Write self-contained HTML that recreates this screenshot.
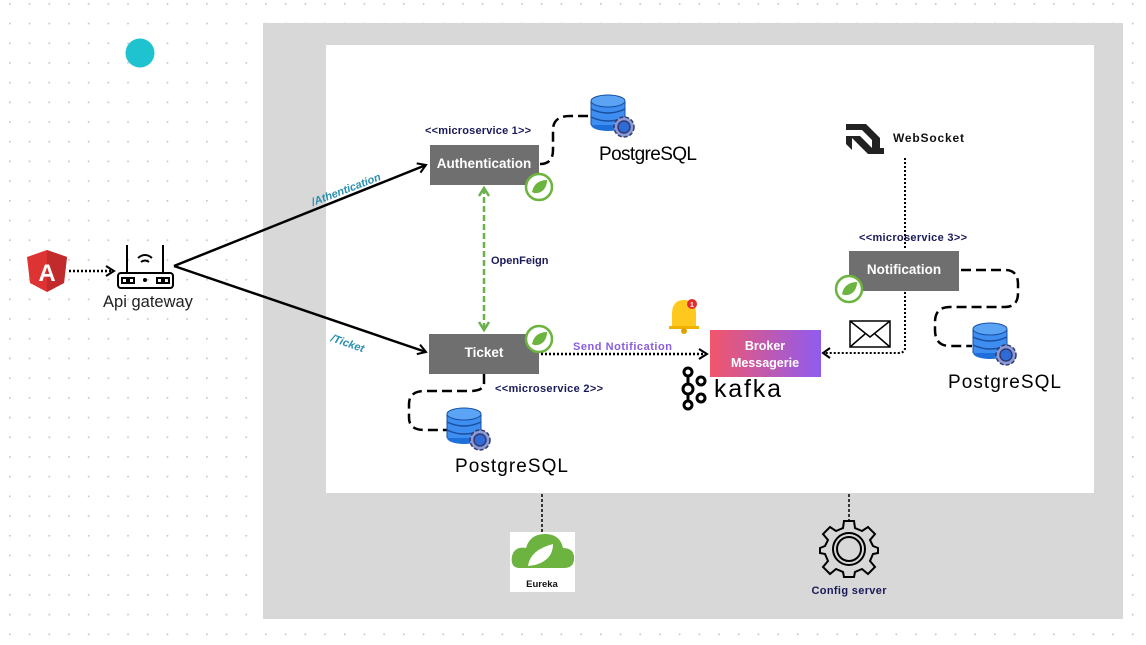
<!DOCTYPE html>
<html><head><meta charset="utf-8"><style>
html,body{margin:0;padding:0;background:#fff}
svg{display:block}
text{font-family:"Liberation Sans",sans-serif}
</style></head><body>
<svg width="1146" height="645" viewBox="0 0 1146 645" xmlns="http://www.w3.org/2000/svg">
<defs>
<pattern id="dots" x="9" y="3" width="19.7" height="19.7" patternUnits="userSpaceOnUse">
<circle cx="0.8" cy="0.8" r="1" fill="#c8c8c8"/>
</pattern>
<linearGradient id="brk" x1="0" y1="0" x2="1" y2="0">
<stop offset="0" stop-color="#f2566a"/><stop offset="1" stop-color="#8f5cf0"/>
</linearGradient>
<marker id="ah" markerWidth="12" markerHeight="12" refX="10" refY="6" orient="auto" markerUnits="userSpaceOnUse">
<path d="M2,1 L10,6 L2,11" fill="none" stroke="#000" stroke-width="2"/>
</marker>
<g id="db">
<ellipse cx="17" cy="30" rx="17" ry="6" fill="#1e6fd9"/>
<rect x="0" y="6" width="34" height="24" fill="#3d8ef0"/>
<ellipse cx="17" cy="6" rx="17" ry="6" fill="#5aa3f5" stroke="#1a4fa0" stroke-width="1"/>
<path d="M0,14 Q17,22 34,14 M0,22 Q17,30 34,22" stroke="#1a4fa0" fill="none" stroke-width="1.5"/>
<path d="M0,6 V30 M34,6 V30" stroke="#1a4fa0" stroke-width="1"/>
<circle cx="33" cy="32" r="10" fill="#8a9bd8" stroke="#333a70" stroke-width="1.5" stroke-dasharray="4 2"/>
<circle cx="33" cy="32" r="6" fill="#2f6bd6" stroke="#333a70" stroke-width="1.5"/>
</g>
<g id="spring">
<circle cx="13" cy="13" r="13" fill="#fff" stroke="#6db33f" stroke-width="2.5"/>
<path d="M6,18 C8,8 16,6 21,6 C21,14 16,20 8,19" fill="#6db33f"/>
</g>
</defs>
<rect width="1146" height="645" fill="url(#dots)"/>
<circle cx="140" cy="53" r="14.5" fill="#1ec3cf"/>
<rect x="263" y="23" width="860" height="596" fill="#d8d8d8"/>
<rect x="326" y="45" width="768" height="448" fill="#fff"/>

<path d="M47,250 L67,257 L64,283 L47,292 L30,283 L27,257 Z" fill="#dd3333"/>
<path d="M47,250 L67,257 L64,283 L47,292 Z" fill="#c12b2b"/>
<text x="47" y="281" font-size="24" fill="#fff" text-anchor="middle" font-weight="bold">A</text>
<line x1="69" y1="271" x2="114" y2="271" stroke="#000" stroke-width="2.5" stroke-dasharray="2 2" marker-end="url(#ah)"/>
<g stroke="#000" stroke-width="2" fill="none">
<rect x="118" y="273" width="55" height="15" rx="3"/>
<line x1="127" y1="245" x2="127" y2="273"/><line x1="163" y1="245" x2="163" y2="273"/>
<rect x="122" y="278" width="5" height="5"/><rect x="129" y="278" width="5" height="5"/>
<rect x="157" y="278" width="5" height="5"/><rect x="164" y="278" width="5" height="5"/>
<path d="M138,258 Q145,252 152,258 M141,262 Q145,259 149,262"/>
</g>
<circle cx="145" cy="280" r="2" fill="#000"/>
<text x="148" y="307" font-size="16.5" fill="#222" text-anchor="middle">Api gateway</text>

<line x1="174" y1="266" x2="426" y2="165" stroke="#000" stroke-width="2.5" marker-end="url(#ah)"/>
<line x1="174" y1="266" x2="426" y2="352" stroke="#000" stroke-width="2.5" marker-end="url(#ah)"/>
<text x="313" y="206" font-size="11" font-weight="bold" font-style="italic" fill="#2a8fb0" transform="rotate(-21 313 206)">/Athentication</text>
<text x="330" y="341" font-size="11" font-weight="bold" font-style="italic" fill="#2a8fb0" transform="rotate(19 330 341)">/Ticket</text>

<text x="478" y="134" font-size="11" font-weight="bold" fill="#1a1a5a" text-anchor="middle" textLength="106">&lt;&lt;microservice 1&gt;&gt;</text>
<rect x="430" y="145" width="109" height="40" fill="#6f6f6f"/>
<text x="484" y="168" font-size="13.5" font-weight="bold" fill="#fff" text-anchor="middle">Authentication</text>
<use href="#spring" x="526" y="174"/>
<path d="M540,164 Q553,164 553,150 L553,130 Q553,116 570,116 L590,116" fill="none" stroke="#000" stroke-width="2.5" stroke-dasharray="10 5"/>
<use href="#db" x="591" y="95"/>
<text x="599" y="160" font-size="19" fill="#000" textLength="98">PostgreSQL</text>

<line x1="484" y1="188" x2="484" y2="330" stroke="#6ab04c" stroke-width="2.5" stroke-dasharray="6 3"/>
<path d="M479,196 L484,188 L489,196 M479,322 L484,330 L489,322" fill="none" stroke="#6ab04c" stroke-width="2.5"/>
<text x="491" y="264" font-size="11" font-weight="bold" fill="#1a1a5a">OpenFeign</text>

<rect x="429" y="334" width="110" height="40" fill="#6f6f6f"/>
<text x="484" y="357" font-size="13.5" font-weight="bold" fill="#fff" text-anchor="middle">Ticket</text>
<use href="#spring" x="526" y="326"/>
<text x="495" y="392" font-size="11" font-weight="bold" fill="#1a1a5a" textLength="108">&lt;&lt;microservice 2&gt;&gt;</text>
<path d="M484,374 L484,383 Q484,391 470,391 L425,391 Q409,391 409,404 L409,418 Q409,430 425,430 L447,430" fill="none" stroke="#000" stroke-width="2.5" stroke-dasharray="10 5"/>
<use href="#db" x="447" y="408"/>
<text x="455" y="472" font-size="19" fill="#000" textLength="113">PostgreSQL</text>

<line x1="541" y1="354" x2="707" y2="354" stroke="#000" stroke-width="2.5" stroke-dasharray="2 2" marker-end="url(#ah)"/>
<text x="573" y="350" font-size="11" font-weight="bold" fill="#8a5ce0" textLength="99">Send Notification</text>
<path d="M672,328 L672,314 Q672,300 684,300 Q696,300 696,314 L696,328 Z" fill="#ffc81e"/>
<rect x="669" y="326" width="30" height="3" fill="#f0b000"/>
<circle cx="684" cy="331" r="3" fill="#e0a000"/>
<circle cx="692" cy="304" r="5" fill="#e52c2c"/>
<text x="692" y="307" font-size="7" fill="#fff" text-anchor="middle" font-weight="bold">1</text>

<rect x="710" y="330" width="111" height="47" fill="url(#brk)"/>
<text x="765" y="350" font-size="12.5" font-weight="bold" fill="#fff" text-anchor="middle">Broker</text>
<text x="765" y="367" font-size="12.5" font-weight="bold" fill="#fff" text-anchor="middle">Messagerie</text>
<g fill="none" stroke="#000" stroke-width="3">
<circle cx="688" cy="372" r="4"/><circle cx="688" cy="389" r="5"/><circle cx="688" cy="405" r="4"/>
<circle cx="701" cy="381" r="4"/><circle cx="701" cy="398" r="4"/>
<line x1="688" y1="376" x2="688" y2="384"/><line x1="688" y1="394" x2="688" y2="401"/>
</g>
<text x="714" y="397" font-size="25" fill="#000" textLength="67">kafka</text>

<g fill="#222">
<path d="M846,124 L866,124 L880,138 L880,150 L872,150 L872,140 L862,130 L846,130 Z"/>
<path d="M852,136 L860,136 L872,148 L884,148 L884,154 L868,154 L852,138 Z"/>
<path d="M846,136 L852,136 L852,150 L846,144 Z"/>
</g>
<text x="893" y="142" font-size="12" font-weight="bold" fill="#111" textLength="71">WebSocket</text>
<line x1="905" y1="158" x2="905" y2="250" stroke="#000" stroke-width="2" stroke-dasharray="2 2"/>

<text x="913" y="241" font-size="11" font-weight="bold" fill="#1a1a5a" text-anchor="middle" textLength="108">&lt;&lt;microservice 3&gt;&gt;</text>
<rect x="849" y="251" width="110" height="40" fill="#6f6f6f"/>
<text x="904" y="274" font-size="13.5" font-weight="bold" fill="#fff" text-anchor="middle">Notification</text>
<use href="#spring" x="836" y="276"/>
<path d="M905,292 L905,348 Q905,353 898,353 L823,353" fill="none" stroke="#000" stroke-width="2" stroke-dasharray="2 2"/>
<path d="M830,348 L823,353 L830,358" fill="none" stroke="#000" stroke-width="2"/>
<rect x="850" y="321" width="40" height="26" fill="#fff" stroke="#000" stroke-width="1.5"/>
<path d="M850,321 L870,337 L890,321 M850,347 L865,334 M890,347 L875,334" fill="none" stroke="#000" stroke-width="1.5"/>
<path d="M961,270 L1005,270 Q1018,270 1018,284 L1018,293 Q1018,307 1005,307 L950,307 Q935,307 935,322 L935,330 Q935,346 950,346 L972,346" fill="none" stroke="#000" stroke-width="2.5" stroke-dasharray="10 5"/>
<use href="#db" x="973" y="323"/>
<text x="948" y="388" font-size="19" fill="#000" textLength="113">PostgreSQL</text>

<line x1="542" y1="494" x2="542" y2="532" stroke="#000" stroke-width="1.5" stroke-dasharray="3 2"/>
<line x1="849" y1="494" x2="849" y2="522" stroke="#000" stroke-width="1.5" stroke-dasharray="3 2"/>
<rect x="510" y="532" width="65" height="60" fill="#fff"/>
<path d="M520,568 Q510,568 512,556 Q515,546 526,548 Q530,534 545,534 Q560,534 563,548 Q575,548 574,560 Q573,568 564,568 Z" fill="#6db33f"/>
<path d="M528,566 Q530,550 553,544 Q553,560 535,565 Z" fill="#fff"/>
<text x="542" y="587" font-size="9.5" font-weight="bold" fill="#111" text-anchor="middle">Eureka</text>
<g transform="translate(849,549)" fill="none" stroke="#000" stroke-width="2">
<path d="M-5,-27 L5,-27 L6,-20 L13,-17 L19,-21 L26,-14 L21,-8 L24,-2 L29,0 L29,5 L24,6 L21,13 L26,19 L19,26 L13,21 L6,24 L5,29 L-5,29 L-6,24 L-13,21 L-19,26 L-26,19 L-21,13 L-24,6 L-29,5 L-29,0 L-24,-2 L-21,-8 L-26,-14 L-19,-21 L-13,-17 L-6,-20 Z" transform="translate(0,-1)"/>
<circle cx="0" cy="0" r="16"/><circle cx="0" cy="0" r="12"/>
</g>
<text x="849" y="594" font-size="11" font-weight="bold" fill="#1a1a5a" text-anchor="middle" textLength="75">Config server</text>
</svg>
</body></html>
